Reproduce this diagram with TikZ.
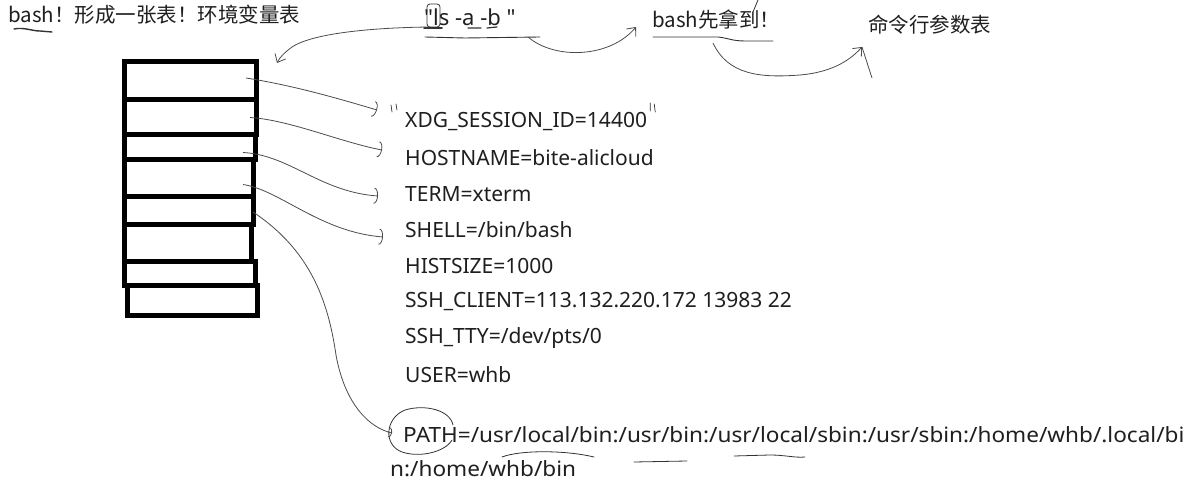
\documentclass[tikz,border=0pt]{standalone}
\usepackage{fontspec}
\setmainfont{Noto Sans}
\newfontfamily\cjk{Noto Sans CJK SC}
\newfontfamily\plainsans{Noto Sans}
\usetikzlibrary{arrows.meta}
\begin{document}
\begin{tikzpicture}[x=1pt,y=-1pt,
  rowbox/.style={draw=black,line width=5pt,inner sep=0pt,outer sep=0pt},
  envtxt/.style={anchor=west,inner sep=0pt,text=black!88,font=\fontsize{21}{24}\selectfont},
  cjktxt/.style={anchor=west,inner sep=0pt,text=black!88,font=\cjk\fontsize{20.5}{24}\selectfont},
  conn/.style={draw=black!70,line width=0.8pt},
  hand/.style={draw=black!80,line width=0.9pt,line cap=round},
  arcend/.style={-{Arc Barb[length=4pt,width=16pt]}},
  barbend/.style={-{Straight Barb[length=7pt,width=12pt]}}
]
\useasboundingbox[fill=white] (0,0) rectangle (1199,486);

% table rows
\node[rowbox,minimum width=132pt,minimum height=38pt] (r1) at (190,81) {};
\node[rowbox,minimum width=132pt,minimum height=35pt] (r2) at (190,117.5) {};
\node[rowbox,minimum width=131pt,minimum height=25pt] (r3) at (189.5,147.5) {};
\node[rowbox,minimum width=129pt,minimum height=37pt] (r4) at (188.5,178.5) {};
\node[rowbox,minimum width=129pt,minimum height=28pt] (r5) at (188.5,211) {};
\node[rowbox,minimum width=127pt,minimum height=37pt] (r6) at (187.5,243.5) {};
\node[rowbox,minimum width=131pt,minimum height=24pt] (r7) at (189.5,274) {};
\node[rowbox,minimum width=130pt,minimum height=29pt] (r8) at (192,300.5) {};

% top texts
\node[cjktxt] (title) at (8,15) {bash！形成一张表！环境变量表};
\node[envtxt,font=\plainsans\fontsize{22}{24}\selectfont] (ls) at (424,17) {"ls -a -b "};
\node[cjktxt] (bashget) at (652,20) {bash先拿到！};
\node[cjktxt] (cmd) at (868,25) {命令行参数表};

% environment list
\node[envtxt] (xdg) at (405,122) {XDG\_SESSION\_ID=14400};
\node[envtxt] (host) at (405,158) {HOSTNAME=bite-alicloud};
\node[envtxt] (term) at (405,194) {TERM=xterm};
\node[envtxt] (shell) at (405,230) {SHELL=/bin/bash};
\node[envtxt] (hist) at (405,266) {HISTSIZE=1000};
\node[envtxt] (sshc) at (405,302) {SSH\_CLIENT=113.132.220.172 13983 22};
\node[envtxt] (ssht) at (405,338) {SSH\_TTY=/dev/pts/0};
\node[envtxt] (user) at (405,375) {USER=whb};
\node[envtxt,xscale=1.075,transform shape] (path) at (403,435) {PATH=/usr/local/bin:/usr/bin:/usr/local/sbin:/usr/sbin:/home/whb/.local/bi};
\node[envtxt,xscale=1.075,transform shape] (path2) at (390,469) {n:/home/whb/bin};

% connectors from rows to entries
\draw[conn,arcend] ([shift={(-10,-3)}]r1.east) .. controls (290,85) and (330,96) .. ([shift={(-28,-12)}]xdg.west);
\draw[conn,arcend] ([shift={(-6,0)}]r2.east) .. controls (290,120) and (340,142) .. ([shift={(-23,-8)}]host.west);
\draw[conn,arcend] ([shift={(-12,5)}]r3.east) .. controls (290,155) and (320,192) .. ([shift={(-27,2)}]term.west);
\draw[conn,arcend] ([shift={(-10,6)}]r4.east) .. controls (280,190) and (320,232) .. ([shift={(-22,7)}]shell.west);
\draw[conn,-{Arc Barb[length=3pt,width=10pt]}] ([shift={(0,1)}]r5.east) .. controls (310,250) and (328,300) .. (336,355) .. controls (345,405) and (370,428) .. ([shift={(-11,-2)}]path.west);

% quote ticks around XDG
\draw[hand,line width=0.7pt] (391,105) -- (392,112) (396,104) -- (397,110);
\draw[hand,line width=0.7pt] ([shift={(3,-19)}]xdg.east) -- ([shift={(3,-11)}]xdg.east) ([shift={(7,-18)}]xdg.east) -- ([shift={(8,-10)}]xdg.east);

% circle round PATH
\draw[hand,line width=0.8pt] (453,425) .. controls (450,410) and (425,404) .. (405,410) .. controls (385,418) and (383,445) .. (402,452) .. controls (420,458) and (445,452) .. (452,440);

% underlines in PATH
\draw[hand,line width=0.8pt] (502,457) .. controls (520,450) and (565,450) .. (594,457);
\draw[hand,line width=0.8pt] (634,462) -- (687,461);
\draw[hand,line width=0.8pt] (734,456) -- (770,455) .. controls (785,455) and (795,458) .. (805,457);

% top annotations
\draw[hand,line width=1.4pt] (14,29) .. controls (24,27) and (32,31) .. (40,31) -- (52,32);
\draw[hand,line width=0.8pt,rounded corners=3pt] (427,4) rectangle (440,27);
\draw[hand,line width=1.6pt] (424,28) -- (442,28);
\draw[hand,line width=1.2pt] (468,28) -- (481,28) (487,28) -- (497,27);
\draw[hand,line width=0.9pt] (425,37) -- (465,38) -- (540,37);
\draw[hand,line width=0.9pt] (653,37) -- (718,37) .. controls (728,38) and (732,41) .. (745,41) -- (773,41);
\draw[hand,line width=0.8pt] (758,0) -- (753,12);

% arrows on top
\draw[conn,barbend] ([shift={(4,10)}]ls.west) .. controls (360,28) and (310,35) .. (292,47) .. controls (284,53) and (280,57) .. (277,63);
\draw[conn,barbend] (528,37) .. controls (555,60) and (610,58) .. ([shift={(-16,7)}]bashget.west);
\draw[conn,barbend] (713,43) .. controls (728,75) and (760,78) .. (800,75) .. controls (835,72) and (852,58) .. ([shift={(-6,22)}]cmd.west);
\draw[conn] ([shift={(-6,22)}]cmd.west) -- (872,78);
\end{tikzpicture}
\end{document}
